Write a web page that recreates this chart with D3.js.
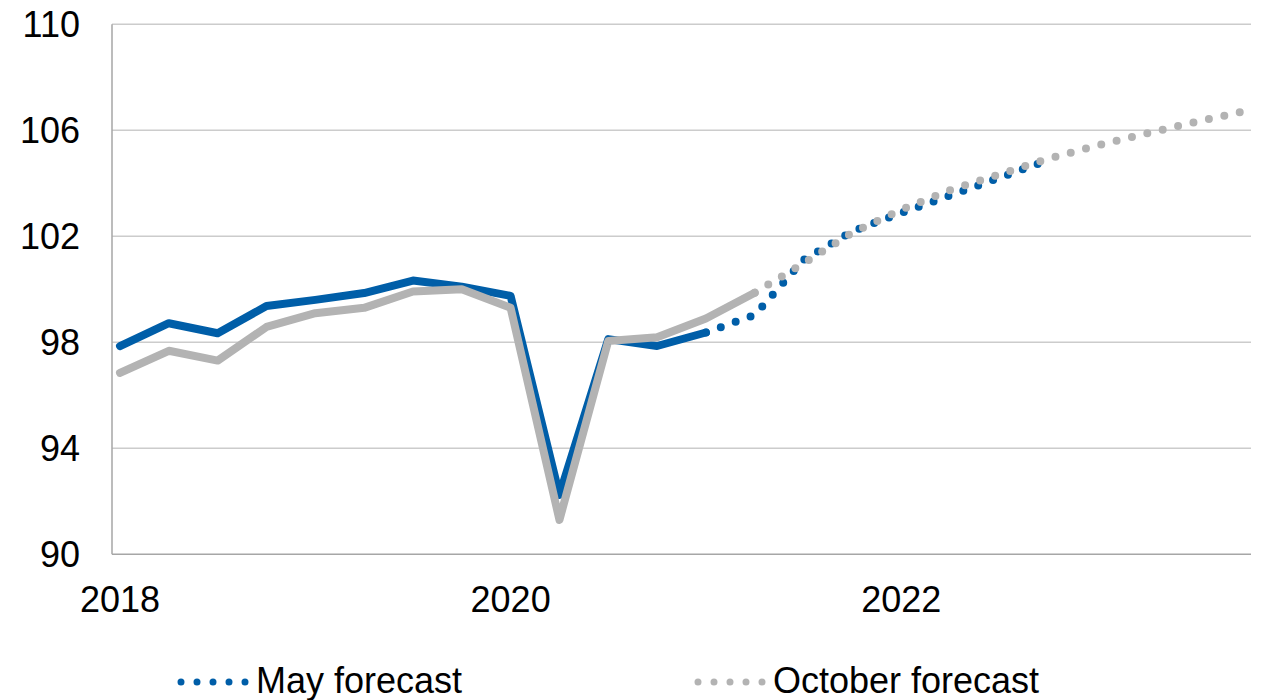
<!DOCTYPE html>
<html>
<head>
<meta charset="utf-8">
<script src="https://cdn.jsdelivr.net/npm/d3@7"></script>
<style>
  body { margin: 0; background: #fff; }
  svg text { font-family: "Liberation Sans", Arial, sans-serif; fill: #000; }
</style>
</head>
<body>
<svg></svg>
<script>
var width = 1264;
var height = 700;

// quarters 2018Q1 .. 2023Q4
var quarters = ["2018Q1","2018Q2","2018Q3","2018Q4","2019Q1","2019Q2","2019Q3","2019Q4",
                "2020Q1","2020Q2","2020Q3","2020Q4","2021Q1","2021Q2","2021Q3","2021Q4",
                "2022Q1","2022Q2","2022Q3","2022Q4","2023Q1","2023Q2","2023Q3","2023Q4"];
var yearLabels = ["2018", "2020", "2022"];
var yTicks = [90, 94, 98, 102, 106, 110];

// May: outturn to 2021Q1, forecast 2021Q1 - 2022Q4
var mayActual = [97.86, 98.72, 98.34, 99.37, 99.6, 99.86, 100.33, 100.1, 99.75, 92.24, 98.12, 97.86, 98.37];
var mayForecast = [98.37, 99.03, 101.11, 102.19, 102.88, 103.54, 104.2, 104.87];
// October: outturn to 2021Q2, forecast 2021Q2 - 2023Q4
var octActual = [96.85, 97.68, 97.31, 98.58, 99.1, 99.3, 99.92, 100.0, 99.3, 91.3, 98.05, 98.19, 98.9, 99.87];
var octForecast = [99.87, 100.98, 102.14, 103.0, 103.74, 104.33, 104.92, 105.42, 105.87, 106.3, 106.71];

var blue = "#005ea8";
var grey = "#b3b3b3";

var margin = {left: 112, right: 13, top: 24.3, bottom: 145.7};

var svg = d3.select("svg")
            .attr("width", width)
            .attr("height", height);

var x = d3.scaleLinear()
          .domain([-0.164, quarters.length - 1 + 0.164])
          .range([margin.left, width - margin.right]);

var y = d3.scaleLinear()
          .domain([90, 110])
          .range([height - margin.bottom, margin.top]);

// gridlines
svg.append("g")
    .selectAll("line")
    .data(yTicks.filter(d => d > 90))
    .enter()
    .append("line")
        .attr("x1", margin.left)
        .attr("x2", width - margin.right)
        .attr("y1", d => y(d))
        .attr("y2", d => y(d))
        .attr("stroke", "#cccccc")
        .attr("stroke-width", 1.5);

// axes lines
svg.append("line")
    .attr("x1", margin.left).attr("x2", margin.left)
    .attr("y1", y(110)).attr("y2", y(90))
    .attr("stroke", "#a6a6a6").attr("stroke-width", 1.5);
svg.append("line")
    .attr("x1", margin.left).attr("x2", width - margin.right)
    .attr("y1", y(90)).attr("y2", y(90))
    .attr("stroke", "#a6a6a6").attr("stroke-width", 1.5);

// y labels
svg.append("g")
    .selectAll("text")
    .data(yTicks)
    .enter()
    .append("text")
        .attr("x", 80)
        .attr("y", d => y(d))
        .attr("dy", "0.35em")
        .attr("text-anchor", "end")
        .style("font-size", "36px")
        .text(d => d);

// x labels
svg.append("g")
    .selectAll("text")
    .data(yearLabels)
    .enter()
    .append("text")
        .attr("x", d => x(quarters.indexOf(d + "Q1")))
        .attr("y", 612)
        .attr("text-anchor", "middle")
        .style("font-size", "36px")
        .text(d => d);

var line = d3.line()
             .x(d => x(d.i))
             .y(d => y(d.v));

function series(values, start) {
    return values.map((v, k) => ({i: start + k, v: v}));
}

function drawLine(data, color, dotted) {
    var p = svg.append("path")
        .datum(data)
        .attr("d", line)
        .attr("fill", "none")
        .attr("stroke", color)
        .attr("stroke-width", 8)
        .attr("stroke-linecap", "round")
        .attr("stroke-linejoin", "round");
    if (dotted) p.attr("stroke-dasharray", "0 15.8");
}

drawLine(series(mayActual, 0), blue, false);
drawLine(series(mayForecast, mayActual.length - 1), blue, true);
drawLine(series(octActual, 0), grey, false);
drawLine(series(octForecast, octActual.length - 1), grey, true);

// legend
var legend = [
    {name: "May forecast", color: blue, x0: 181},
    {name: "October forecast", color: grey, x0: 698}
];

var items = svg.append("g")
    .selectAll("g")
    .data(legend)
    .enter()
    .append("g");

items.append("line")
    .attr("x1", d => d.x0)
    .attr("x2", d => d.x0 + 64.5)
    .attr("y1", 682)
    .attr("y2", 682)
    .attr("stroke", d => d.color)
    .attr("stroke-width", 7)
    .attr("stroke-linecap", "round")
    .attr("stroke-dasharray", "0 16");

items.append("text")
    .attr("x", d => d.x0 + 75)
    .attr("y", 693)
    .style("font-size", "36px")
    .text(d => d.name);
</script>
</body>
</html>
